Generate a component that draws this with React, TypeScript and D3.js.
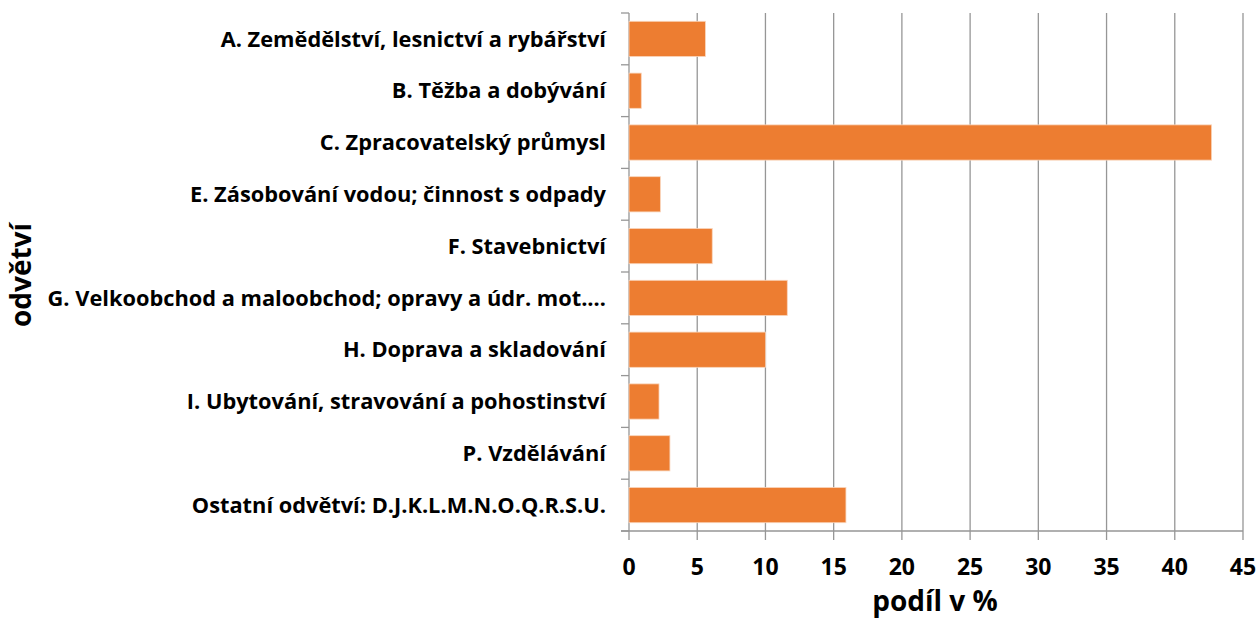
import React from 'react';
import * as d3 from 'd3';

const categories = [
  'A. Zemědělství, lesnictví a rybářství',
  'B. Těžba a dobývání',
  'C. Zpracovatelský průmysl',
  'E. Zásobování vodou; činnost s odpady',
  'F. Stavebnictví',
  'G. Velkoobchod a maloobchod; opravy a údr. mot.…',
  'H. Doprava a skladování',
  'I. Ubytování, stravování a pohostinství',
  'P. Vzdělávání',
  'Ostatní odvětví: D.J.K.L.M.N.O.Q.R.S.U.',
];
const values = [5.6, 0.9, 42.7, 2.3, 6.1, 11.6, 10.0, 2.2, 3.0, 15.9];
const xTicks = [0, 5, 10, 15, 20, 25, 30, 35, 40, 45];

const width = 1259;
const height = 620;
const margin = { top: 13, right: 16, bottom: 89, left: 629 };
const font = '"Open Sans", sans-serif';

const App = () => {
  const innerH = height - margin.top - margin.bottom;

  const x = d3.scaleLinear().domain([0, 45]).range([0, 614]);
  const y = d3.scaleBand().domain(categories).range([0, innerH]).paddingInner(0.32).paddingOuter(0.16);
  const step = innerH / categories.length;

  return (
    <svg width={width} height={height} style={{ position: 'absolute', left: 0, top: 0 }}>
      <g transform={`translate(${margin.left},${margin.top})`}>
        {/* vertical grid */}
        {xTicks.map((t) => (
          <line key={t} x1={x(t)} x2={x(t)} y1={0} y2={innerH + 9} stroke="#969696" strokeWidth={1.3} />
        ))}
        {/* bottom axis */}
        <line x1={-8} x2={x(45)} y1={innerH} y2={innerH} stroke="#969696" strokeWidth={1.3} />
        {/* category ticks */}
        {d3.range(categories.length + 1).map((i) => (
          <line key={i} x1={-8} x2={0} y1={i * step} y2={i * step} stroke="#969696" strokeWidth={1.3} />
        ))}
        {categories.map((c, i) => (
          <rect
            key={c}
            x={x(0)}
            y={y(c)}
            width={x(values[i]) - x(0)}
            height={y.bandwidth()}
            fill="#ED7D31"
            stroke="#F9D5BC"
            strokeWidth={0.8}
          />
        ))}
        {categories.map((c) => (
          <text
            key={c}
            x={-23}
            y={(y(c) ?? 0) + y.bandwidth() / 2}
            dy="0.35em"
            textAnchor="end"
            fontFamily={font}
            fontWeight="bold"
            fontSize={21.8}
            fill="#000"
          >
            {c}
          </text>
        ))}
        {xTicks.map((t) => (
          <text
            key={t}
            x={x(t)}
            y={innerH + 44}
            textAnchor="middle"
            fontFamily={font}
            fontWeight="bold"
            fontSize={23}
            fill="#000"
          >
            {t}
          </text>
        ))}
      </g>
      <text x={935} y={611} textAnchor="middle" fontFamily={font} fontWeight="bold" fontSize={28} fill="#000">
        podíl v %
      </text>
      <text
        transform="translate(31,275) rotate(-90)"
        textAnchor="middle"
        fontFamily={font}
        fontWeight="bold"
        fontSize={28}
        fill="#000"
      >
        odvětví
      </text>
    </svg>
  );
};

export default App;
